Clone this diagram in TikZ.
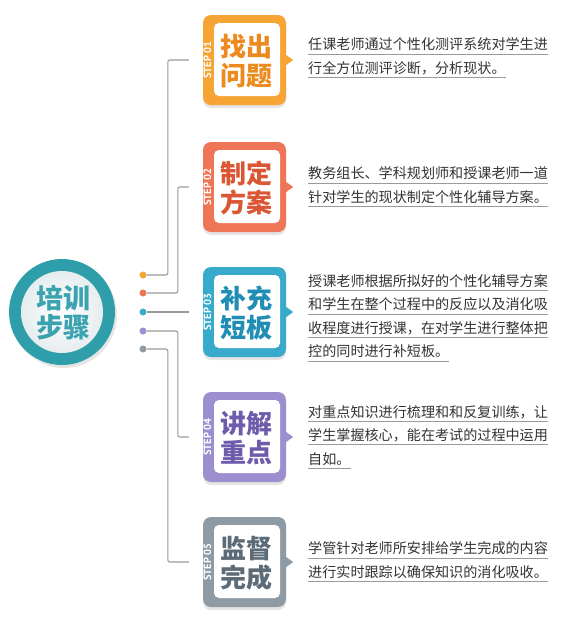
\documentclass[tikz,border=0pt]{standalone}
\usepackage{fontspec}
\usepackage{xcolor}
\usepackage{tikz}
\usetikzlibrary{positioning, calc, shadows}
\newfontfamily\cjk{Noto Sans CJK SC}
\newfontfamily\stepfont{PT Sans}
\definecolor{cOrange}{HTML}{F6A434}
\definecolor{cOrangeT}{HTML}{EC8A1E}
\definecolor{cCoral}{HTML}{EE7656}
\definecolor{cCoralT}{HTML}{DA5634}
\definecolor{cTeal}{HTML}{38AACB}
\definecolor{cTealT}{HTML}{1F8DB4}
\definecolor{cPurple}{HTML}{9D8FCF}
\definecolor{cPurpleT}{HTML}{6D5CAB}
\definecolor{cGray}{HTML}{8F9BA4}
\definecolor{cGrayT}{HTML}{5C6B76}
\definecolor{cRing}{HTML}{2E9EAB}
\definecolor{cRingT}{HTML}{3BA3B0}
\definecolor{cCore}{HTML}{E6EDEF}
\definecolor{cLine}{HTML}{9A9A9A}
\definecolor{cText}{HTML}{333333}
\newcommand\ulline[1]{\setbox0\hbox{#1}\rlap{\color{cLine}\rule[-4.5pt]{\wd0}{0.9pt}}\box0}

\begin{document}
\begin{tikzpicture}[x=1pt, y=-1pt,
  every node/.style={inner sep=0pt},
  frame/.style={rounded corners=8pt, minimum width=83pt, minimum height=90pt, drop shadow={shadow xshift=0pt, shadow yshift=-3pt, opacity=0.2}},
  inner/.style={fill=white, rounded corners=5pt, minimum width=66pt, minimum height=73pt},
  title/.style={font=\cjk\bfseries\fontsize{26}{29}\selectfont, align=center},
  steplab/.style={font=\stepfont\bfseries\fontsize{10.5}{10.5}\selectfont, text=white, rotate=90},
  desc/.style={font=\cjk\fontsize{14.1}{23.5}\selectfont, text=cText, align=left, anchor=west},
  dot/.style={circle, minimum size=7pt},
  ln/.style={draw=cLine, line width=1.1pt, rounded corners=2pt}
]
\useasboundingbox[fill=white] (0,0) rectangle (570,638);

% centre circle
\node[circle, fill=cRing, minimum size=106pt, drop shadow={shadow xshift=2pt, shadow yshift=-3pt, opacity=0.2}] (ring) at (62,312) {};
\node[circle, inner color=white, outer color=cCore, minimum size=82pt] (core) at (ring) {};
\node[font=\cjk\bfseries\fontsize{27}{29}\selectfont, text=cRingT, align=center] (ttl) at (63,313) {培训\\步骤};

% dots
\node[dot, fill=cOrange] (d1) at (143,275) {};
\node[dot, fill=cCoral] (d2) at (143,293) {};
\node[dot, fill=cTeal] (d3) at (143,312) {};
\node[dot, fill=cPurple] (d4) at (143,331) {};
\node[dot, fill=cGray] (d5) at (143,349) {};

% steps
\node[frame, fill=cOrange] (s1) at (244.5,60) {};
\node[inner] (w1) at (247,59.5) {};
\node[title, text=cOrangeT] (t1) at (246,61.5) {找出\\问题};
\node[steplab] (l1) at (207.5,60) {STEP 01};
\fill[cOrange] ($(s1.east)+(0,-5)$) -- ++(7,5) -- ++(-7,5) -- cycle;

\node[frame, fill=cCoral] (s2) at (244.5,187) {};
\node[inner] (w2) at (247,186.5) {};
\node[title, text=cCoralT] (t2) at (246,188.5) {制定\\方案};
\node[steplab] (l2) at (207.5,187) {STEP 02};
\fill[cCoral] ($(s2.east)+(0,-5)$) -- ++(7,5) -- ++(-7,5) -- cycle;

\node[frame, fill=cTeal] (s3) at (244.5,312) {};
\node[inner] (w3) at (247,311.5) {};
\node[title, text=cTealT] (t3) at (246,313.5) {补充\\短板};
\node[steplab] (l3) at (207.5,312) {STEP 03};
\fill[cTeal] ($(s3.east)+(0,-5)$) -- ++(7,5) -- ++(-7,5) -- cycle;

\node[frame, fill=cPurple] (s4) at (244.5,437) {};
\node[inner] (w4) at (247,436.5) {};
\node[title, text=cPurpleT] (t4) at (246,438.5) {讲解\\重点};
\node[steplab] (l4) at (207.5,437) {STEP 04};
\fill[cPurple] ($(s4.east)+(0,-5)$) -- ++(7,5) -- ++(-7,5) -- cycle;

\node[frame, fill=cGray] (s5) at (244.5,562) {};
\node[inner] (w5) at (247,561.5) {};
\node[title, text=cGrayT] (t5) at (246,563.5) {监督\\完成};
\node[steplab] (l5) at (207.5,562) {STEP 05};
\fill[cGray] ($(s5.east)+(0,-5)$) -- ++(7,5) -- ++(-7,5) -- cycle;

% descriptions
\node[desc] (x1) at (308,58) {\ulline{任课老师通过个性化测评系统对学生进}\\\ulline{行全方位测评诊断，分析现状。}};
\node[desc] (x2) at (308,187) {\ulline{教务组长、学科规划师和授课老师一道}\\\ulline{针对学生的现状制定个性化辅导方案。}};
\node[desc] (x3) at (308,318) {\ulline{授课老师根据所拟好的个性化辅导方案}\\\ulline{和学生在整个过程中的反应以及消化吸}\\\ulline{收程度进行授课，在对学生进行整体把}\\\ulline{控的同时进行补短板。}};
\node[desc] (x4) at (308,437) {\ulline{对重点知识进行梳理和和反复训练，让}\\\ulline{学生掌握核心，能在考试的过程中运用}\\\ulline{自如。}};
\node[desc] (x5) at (308,562) {\ulline{学管针对老师所安排给学生完成的内容}\\\ulline{进行实时跟踪以确保知识的消化吸收。}};

% connectors
\coordinate (e1) at ([xshift=-14pt]s1.west);
\coordinate (e2) at ([xshift=-14pt]s2.west);
\coordinate (e3) at ([xshift=-14pt]s3.west);
\coordinate (e4) at ([xshift=-14pt]s4.west);
\coordinate (e5) at ([xshift=-14pt]s5.west);
\draw[ln] (d1) -| ([xshift=-21pt]e1) -- (e1);
\draw[ln] (d2) -| ([xshift=-11pt]e2) -- (e2);
\draw[ln] (d3) -- (e3);
\draw[ln] (d4) -| ([xshift=-11pt]e4) -- (e4);
\draw[ln] (d5) -| ([xshift=-21pt]e5) -- (e5);
\end{tikzpicture}
\end{document}
